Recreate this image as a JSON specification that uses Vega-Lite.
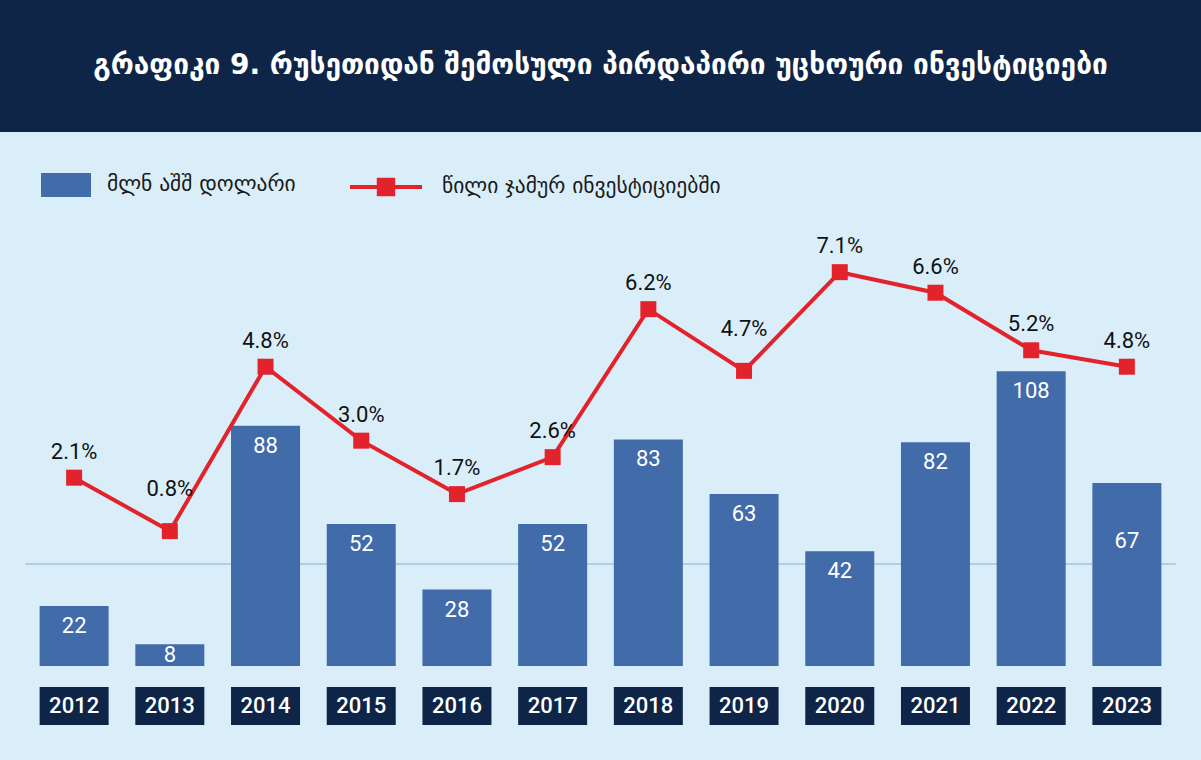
{
  "$schema": "https://vega.github.io/schema/vega-lite/v6.json",
  "description": "FDI from Russia to Georgia, 2012-2023",
  "background": "#daeefa",
  "padding": {"left": 0, "top": 0, "right": 0, "bottom": 36},
  "spacing": 20,
  "config": {"view": {"stroke": null}},
  "datasets": {
    "fdi": [
      {"year": "2012", "usd": 22, "share": 0.021},
      {"year": "2013", "usd": 8, "share": 0.008},
      {"year": "2014", "usd": 88, "share": 0.048},
      {"year": "2015", "usd": 52, "share": 0.030},
      {"year": "2016", "usd": 28, "share": 0.017},
      {"year": "2017", "usd": 52, "share": 0.026},
      {"year": "2018", "usd": 83, "share": 0.062},
      {"year": "2019", "usd": 63, "share": 0.047},
      {"year": "2020", "usd": 42, "share": 0.071},
      {"year": "2021", "usd": 82, "share": 0.066},
      {"year": "2022", "usd": 108, "share": 0.052},
      {"year": "2023", "usd": 67, "share": 0.048}
    ]
  },
  "vconcat": [
    {
      "width": 1201,
      "height": 132,
      "view": {"fill": "#0f2547", "stroke": null},
      "data": {"values": [{"title": "გრაფიკი 9. რუსეთიდან შემოსული პირდაპირი უცხოური ინვესტიციები"}]},
      "mark": {"type": "text", "color": "white", "font": "DejaVu Sans", "fontWeight": "bold", "fontSize": 28, "dy": 0},
      "encoding": {"text": {"field": "title"}}
    },
    {
      "width": 1201,
      "height": 514,
      "data": {"name": "fdi"},
      "encoding": {
        "x": {
          "field": "year",
          "type": "nominal",
          "sort": "ascending",
          "axis": null,
          "scale": {"paddingInner": 0.279, "paddingOuter": 0.414}
        }
      },
      "layer": [
        {
          "mark": {"type": "rule", "color": "#b3cce2", "strokeWidth": 1},
          "encoding": {
            "x": {"datum": "2012", "bandPosition": -0.2},
            "x2": {"datum": "2023", "bandPosition": 1.2},
            "y": {"datum": 0, "type": "quantitative", "axis": null, "scale": {"domain": [-0.02482, 0.10024], "nice": false, "zero": false}}
          }
        },
        {
          "mark": {"type": "bar"},
          "encoding": {
            "y": {"field": "usd", "type": "quantitative", "axis": null, "scale": {"domain": [0, 188.3], "nice": false}},
            "fill": {
              "datum": "მლნ აშშ დოლარი",
              "scale": {"range": ["#416ba9"]},
              "legend": {
                "orient": "none",
                "legendX": 41,
                "legendY": 160,
                "title": null,
                "padding": 0,
                "symbolType": "M-1,-0.48H1V0.48H-1Z",
                "symbolSize": 2500,
                "symbolStrokeWidth": 0,
                "labelFont": "DejaVu Sans",
                "labelFontSize": 21.5,
                "labelColor": "#1a1a1a",
                "labelLimit": 0,
                "labelOffset": 16
              }
            }
          }
        },
        {
          "mark": {"type": "line", "strokeWidth": 4},
          "encoding": {
            "y": {"field": "share", "type": "quantitative", "axis": null, "scale": {"domain": [-0.02482, 0.10024], "nice": false, "zero": false}},
            "stroke": {
              "datum": "წილი ჯამურ ინვესტიციებში",
              "scale": {"range": ["#e3232c"]},
              "legend": {
                "orient": "none",
                "legendX": 348,
                "legendY": 149,
                "title": null,
                "padding": 0,
                "symbolType": "M-1,0H1M-0.2,-0.2H0.2V0.2H-0.2Z",
                "symbolSize": 5184,
                "symbolStrokeWidth": 4,
                "symbolStrokeColor": "#e3232c",
                "symbolFillColor": "#e3232c",
                "labelFont": "DejaVu Sans",
                "labelFontSize": 21.5,
                "labelColor": "#1a1a1a",
                "labelLimit": 0,
                "labelOffset": 18,
                "encode": {"symbols": {"update": {"fill": {"value": "#e3232c"}, "stroke": {"value": "#e3232c"}}}}
              }
            }
          }
        },
        {
          "mark": {"type": "point", "shape": "square", "filled": true, "size": 256, "color": "#e3232c", "opacity": 1},
          "encoding": {
            "y": {"field": "share", "type": "quantitative", "axis": null, "scale": {"domain": [-0.02482, 0.10024], "nice": false, "zero": false}}
          }
        },
        {
          "transform": [{"filter": "datum.year != '2013' && datum.year != '2023'"}],
          "mark": {"type": "text", "color": "white", "font": "Roboto", "fontSize": 22, "baseline": "middle", "dy": 20},
          "encoding": {
            "y": {"field": "usd", "type": "quantitative", "axis": null, "scale": {"domain": [0, 188.3], "nice": false}},
            "text": {"field": "usd", "type": "quantitative"}
          }
        },
        {
          "transform": [{"filter": "datum.year == '2013'"}],
          "mark": {"type": "text", "color": "white", "font": "Roboto", "fontSize": 22, "baseline": "middle", "dy": 11},
          "encoding": {
            "y": {"field": "usd", "type": "quantitative", "axis": null, "scale": {"domain": [0, 188.3], "nice": false}},
            "text": {"field": "usd", "type": "quantitative"}
          }
        },
        {
          "transform": [{"filter": "datum.year == '2023'"}],
          "mark": {"type": "text", "color": "white", "font": "Roboto", "fontSize": 22, "baseline": "middle", "dy": 58},
          "encoding": {
            "y": {"field": "usd", "type": "quantitative", "axis": null, "scale": {"domain": [0, 188.3], "nice": false}},
            "text": {"field": "usd", "type": "quantitative"}
          }
        },
        {
          "transform": [{"filter": "datum.year != '2013' && datum.year != '2019'"}],
          "mark": {"type": "text", "color": "#111111", "font": "Roboto", "fontSize": 22, "baseline": "middle", "dy": -26},
          "encoding": {
            "y": {"field": "share", "type": "quantitative", "axis": null, "scale": {"domain": [-0.02482, 0.10024], "nice": false, "zero": false}},
            "text": {"field": "share", "type": "quantitative", "format": ".1%"}
          }
        },
        {
          "transform": [{"filter": "datum.year == '2013' || datum.year == '2019'"}],
          "mark": {"type": "text", "color": "#111111", "font": "Roboto", "fontSize": 22, "baseline": "middle", "dy": -42},
          "encoding": {
            "y": {"field": "share", "type": "quantitative", "axis": null, "scale": {"domain": [-0.02482, 0.10024], "nice": false, "zero": false}},
            "text": {"field": "share", "type": "quantitative", "format": ".1%"}
          }
        }
      ],
      "resolve": {"scale": {"y": "independent"}}
    },
    {
      "width": 1201,
      "height": 38,
      "data": {"name": "fdi"},
      "encoding": {
        "x": {
          "field": "year",
          "type": "nominal",
          "sort": "ascending",
          "axis": null,
          "scale": {"paddingInner": 0.279, "paddingOuter": 0.414}
        }
      },
      "layer": [
        {"mark": {"type": "rect", "color": "#0f2547"}},
        {
          "mark": {"type": "text", "color": "white", "font": "Roboto", "fontSize": 22, "fontWeight": 500},
          "encoding": {"text": {"field": "year"}}
        }
      ]
    }
  ]
}
